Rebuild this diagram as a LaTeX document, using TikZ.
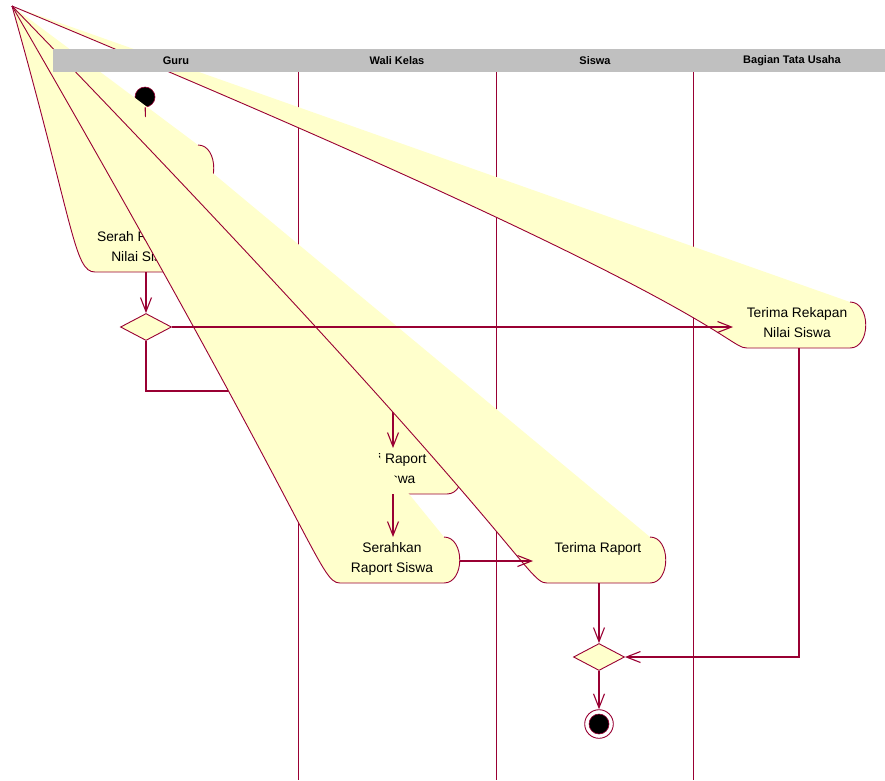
\documentclass[tikz,border=0pt]{standalone}
\usepackage{fontspec}
\setmainfont{Liberation Sans}
\usetikzlibrary{arrows.meta,shapes.geometric}

\definecolor{roseline}{RGB}{153,0,51}
\definecolor{rosefill}{RGB}{255,255,204}
\definecolor{lanehead}{RGB}{192,192,192}

\begin{document}
\begin{tikzpicture}[x=1pt,y=-1pt,
    activity/.style={fill=rosefill, draw=roseline, line width=0.9pt},
    acttext/.style={anchor=north, inner sep=0pt, align=center, font=\fontsize{13.8}{20}\selectfont},
    trans/.style={draw=roseline, line width=1.1pt, -{Straight Barb[length=14pt,width=11pt]}},
    flow/.style={draw=roseline, line width=1.1pt},
    decision/.style={diamond, draw=roseline, fill=rosefill, line width=0.9pt, minimum width=51pt, minimum height=27pt, inner sep=0pt},
    startstate/.style={circle, fill=black, draw=roseline, line width=0.6pt, minimum size=20pt, inner sep=0pt},
    finalstate/.style={circle, fill=white, draw=roseline, line width=0.9pt, minimum size=28.6pt, inner sep=0pt},
    lane/.style={draw=roseline, line width=0.9pt},
    lanetitle/.style={font=\fontsize{11}{13}\selectfont\bfseries}]

    % Page size of the diagram
    \useasboundingbox (0,0) rectangle (885,780);

    % The point where all broken activity corners end up
    \coordinate (apex) at (12,6);

    % Swimlane dividers
    \draw[lane] (298.5,72) -- (298.5,780);
    \draw[lane] (496.5,72) -- (496.5,780);
    \draw[lane] (693.5,72) -- (693.5,780);

    % Start state
    \node[startstate] (start) at (145,97) {};

    % First activity in Guru lane (its text is hidden)
    \filldraw[activity] (198,145) .. controls (219,145) and (219,191) .. (198,191) -- (96,191) .. controls (75,191) and (75,145) .. (apex);
    \coordinate (prosesNilai-n) at (146,145);
    \coordinate (prosesNilai-s) at (146,191);
    \draw[trans] (start) -- (prosesNilai-n);

    % Serah Rekapan Nilai Siswa
    \filldraw[activity] (199,226) .. controls (220,226) and (220,272) .. (199,272) -- (95,272) .. controls (74,272) and (74,226) .. (apex);
    \node[acttext] (serahRekap) at (145,231.5) {Serah Rekapan\\Nilai Siswa};
    \coordinate (serahRekap-n) at (146,226);
    \coordinate (serahRekap-s) at (146,272);
    \draw[trans] (prosesNilai-s) -- (serahRekap-n);

    % Decision after the recap
    \node[decision] (dec1) at (146,327) {};
    \draw[trans] (serahRekap-s) -- (dec1);
    \coordinate (loopEnd) at (300,391);
    \draw[flow] (dec1) |- (loopEnd);

    % Isi Raport Siswa
    \filldraw[activity] (447,448) .. controls (468,448) and (468,494) .. (447,494) -- (347,494) .. controls (326,494) and (326,448) .. (apex);
    \node[acttext] (isiRaport) at (397,453.5) {Isi Raport\\Siswa};
    \coordinate (isiRaport-n) at (393,448);
    \coordinate (isiRaport-s) at (393,494);
    \coordinate (intoIsi) at (393,360);
    \draw[trans] (intoIsi) -- (isiRaport-n);

    % Serahkan Raport Siswa
    \filldraw[activity] (444,537) .. controls (465,537) and (465,583) .. (444,583) -- (340,583) .. controls (319,583) and (319,537) .. (apex);
    \node[acttext] (serahRaport) at (392,542.5) {Serahkan\\Raport Siswa};
    \coordinate (serahRaport-n) at (393,537);
    \coordinate (serahRaport-e) at (460,561);
    \draw[trans] (isiRaport-s) -- (serahRaport-n);

    % Terima Raport
    \filldraw[activity] (650,537) .. controls (671,537) and (671,583) .. (650,583) -- (547,583) .. controls (526,583) and (526,537) .. (apex);
    \node[acttext] (terimaRaport) at (598,542.5) {Terima Raport};
    \coordinate (terimaRaport-w) at (533,561);
    \coordinate (terimaRaport-s) at (599,583);
    \draw[trans] (serahRaport-e) -- (terimaRaport-w);

    % Terima Rekapan Nilai Siswa
    \filldraw[activity] (850,302) .. controls (871,302) and (871,348) .. (850,348) -- (747,348) .. controls (726,348) and (726,302) .. (apex);
    \node[acttext] (terimaRekap) at (797,307.5) {Terima Rekapan\\Nilai Siswa};
    \coordinate (terimaRekap-w) at (733,327);
    \coordinate (terimaRekap-s) at (799,348);
    \draw[trans] (dec1) -- (terimaRekap-w);

    % Merge and end state
    \node[decision] (dec2) at (599,657) {};
    \draw[trans] (terimaRaport-s) -- (dec2);
    \draw[trans] (terimaRekap-s) |- (dec2);
    \node[finalstate] (end) at (599,724) {};
    \node[startstate] (endDot) at (end) {};
    \draw[trans] (dec2) -- (end);

    % Swimlane header
    \fill[lanehead] (53,49) rectangle (892,72);
    \node[lanetitle] (guru) at (176,61) {Guru};
    \node[lanetitle] (waliKelas) at (397,61) {Wali Kelas};
    \node[lanetitle] (siswa) at (595,61) {Siswa};
    \node[lanetitle] (tataUsaha) at (792,61) {Bagian Tata Usaha};

\end{tikzpicture}
\end{document}
